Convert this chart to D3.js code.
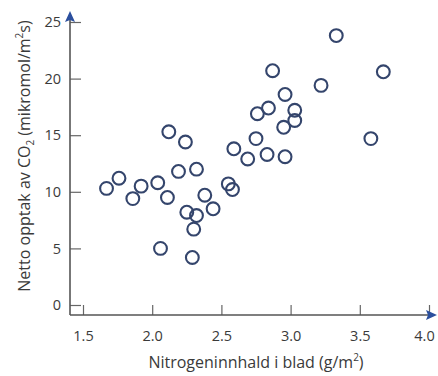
<!DOCTYPE html>
<html>
<head>
<meta charset="utf-8">
<script src="https://cdn.jsdelivr.net/npm/d3@7"></script>
<style>
  body { margin: 0; background: #fff; }
  svg text { font-family: "Open Sans", "Noto Sans", sans-serif; fill: #3a3a3a; }
</style>
</head>
<body>
<svg id="chart" width="438" height="376"></svg>
<script>
// nitrogen in leaf (g/m2) and net CO2 uptake (mikromol/m2s)
const nitrogen = [1.67, 1.76, 1.86, 1.92, 2.04, 2.11, 2.06, 2.12, 2.24, 2.19, 2.32, 2.25,
  2.32, 2.30, 2.29, 2.38, 2.44, 2.55, 2.58, 2.59, 2.69, 2.75, 2.83, 2.96, 2.76, 2.84,
  2.87, 2.96, 3.03, 3.03, 2.95, 3.22, 3.33, 3.67, 3.58];
const uptake = [10.3, 11.2, 9.4, 10.5, 10.8, 9.5, 5.0, 15.3, 14.4, 11.8, 12.0, 8.2,
  7.9, 6.7, 4.2, 9.7, 8.5, 10.7, 10.2, 13.8, 12.9, 14.7, 13.3, 13.1, 16.9, 17.4,
  20.7, 18.6, 17.2, 16.3, 15.7, 19.4, 23.8, 20.6, 14.7];
const xTicks = [1.5, 2.0, 2.5, 3.0, 3.5, 4.0];
const yTicks = [0, 5, 10, 15, 20, 25];

const svg = d3.select("#chart");
const axisX = 70, axisY = 315;   // where the two axis lines sit
const blue = "#2b4f9e";

const x = d3.scaleLinear().domain([1.5, 4.0]).range([83, 429]);
const y = d3.scaleLinear().domain([0, 25]).range([305, 22]);

// x-akse
const gx = svg.append("g")
  .attr("transform", `translate(0,${axisY})`)
  .call(d3.axisBottom(x).tickValues(xTicks).tickFormat(d3.format(".1f"))
    .tickSizeInner(-10).tickSizeOuter(0).tickPadding(16));
gx.select(".domain").remove();
gx.selectAll(".tick line").attr("stroke", "#666").attr("stroke-width", 1.2);
gx.selectAll(".tick text").attr("font-size", 14.5).style("font-family", "Open Sans, sans-serif").attr("fill", "#333");
// siste etikett ligg heilt i kanten, trekk den litt inn
gx.selectAll(".tick text").filter(d => d === 4.0).attr("dx", -5);

// y-akse
const gy = svg.append("g")
  .attr("transform", `translate(${axisX},0)`)
  .call(d3.axisLeft(y).tickValues(yTicks).tickSizeInner(-11).tickSizeOuter(0).tickPadding(9));
gy.select(".domain").remove();
gy.selectAll(".tick line").attr("stroke", "#666").attr("stroke-width", 1.2);
gy.selectAll(".tick text").attr("font-size", 14.5).style("font-family", "Open Sans, sans-serif").attr("fill", "#333");

// axis lines with arrow heads
svg.append("line")
  .attr("x1", axisX).attr("y1", axisY).attr("x2", 430).attr("y2", axisY)
  .attr("stroke", "#555").attr("stroke-width", 1.6);
svg.append("line")
  .attr("x1", axisX).attr("y1", axisY).attr("x2", axisX).attr("y2", 20)
  .attr("stroke", "#555").attr("stroke-width", 1.6);
svg.append("path")
  .attr("d", `M437,${axisY} L426,${axisY - 5} L428,${axisY} L426,${axisY + 5} Z`)
  .attr("fill", blue);
svg.append("path")
  .attr("d", `M${axisX},11 L${axisX - 5},22 L${axisX},20 L${axisX + 5},22 Z`)
  .attr("fill", blue);

// punkt
svg.append("g").selectAll("circle")
  .data(nitrogen.map((n, i) => ({ n, u: uptake[i] })))
  .join("circle")
  .attr("cx", d => x(d.n))
  .attr("cy", d => y(d.u))
  .attr("r", 6.4)
  .attr("fill", "none")
  .attr("stroke", "#34456c")
  .attr("stroke-width", 2.1);

// aksetitlar
const xl = svg.append("text")
  .attr("x", 256).attr("y", 368)
  .attr("text-anchor", "middle")
  .attr("font-size", 16);
xl.append("tspan").text("Nitrogeninnhald i blad (g/m");
xl.append("tspan").attr("font-size", 10).attr("dy", -7).text("2");
xl.append("tspan").attr("dy", 7).text(")");

const yl = svg.append("text")
  .attr("transform", "translate(30,156) rotate(-90)")
  .attr("text-anchor", "middle")
  .attr("font-size", 16);
yl.append("tspan").text("Netto opptak av CO");
yl.append("tspan").attr("font-size", 10).attr("dy", 4).text("2");
yl.append("tspan").attr("dy", -4).text(" (mikromol/m");
yl.append("tspan").attr("font-size", 10).attr("dy", -7).text("2");
yl.append("tspan").attr("dy", 7).text("s)");
</script>
</body>
</html>
